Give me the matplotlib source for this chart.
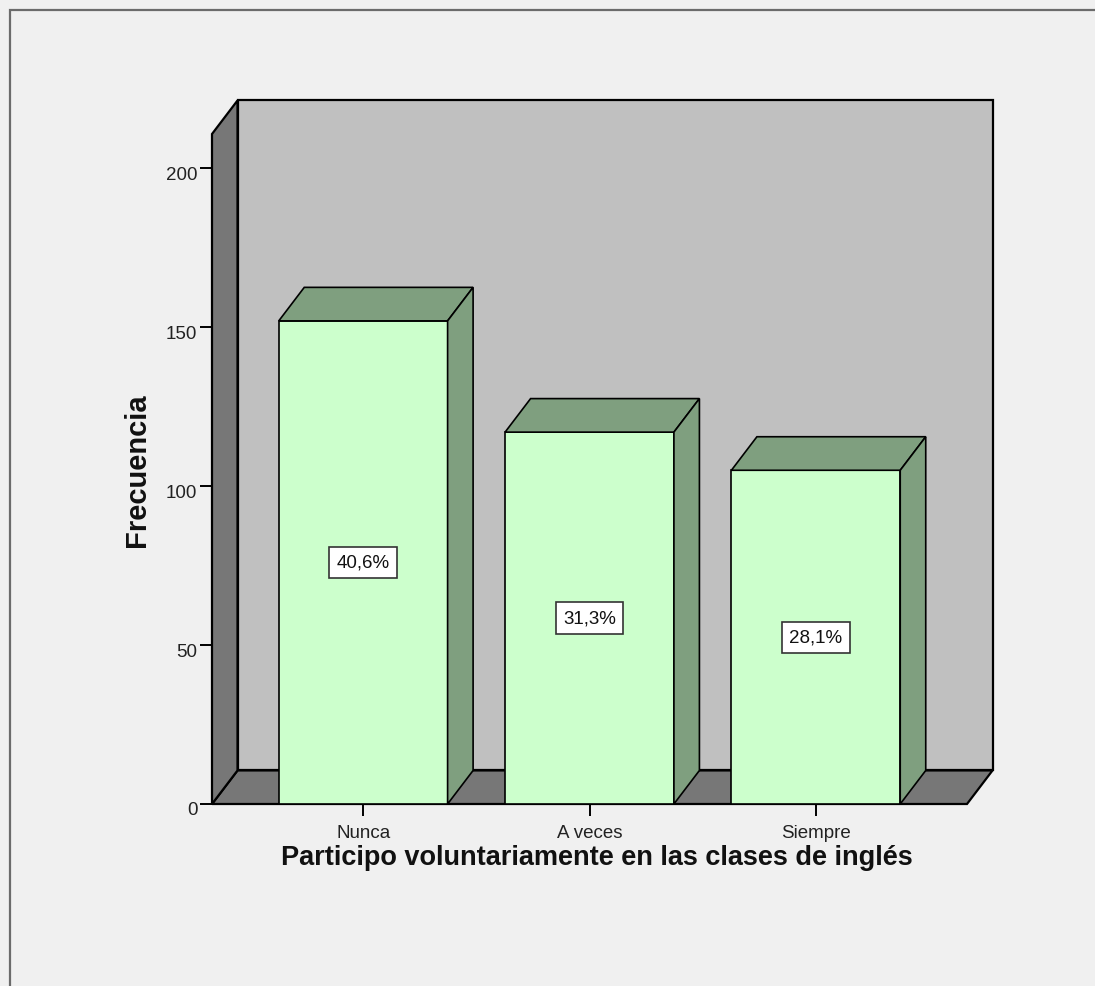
import matplotlib
matplotlib.use("Agg")
import matplotlib.pyplot as plt
from matplotlib.patches import Polygon, Rectangle
from matplotlib.transforms import ScaledTranslation

categories = ["Nunca", "A veces", "Siempre"]
frequencies = [152, 117, 105]
y_ticks = [0, 50, 100, 150, 200]
x_label = "Participo voluntariamente en las clases de inglés"
y_label = "Frecuencia"

total = sum(frequencies)
pct_labels = [f"{v / total * 100:.1f}%".replace(".", ",") for v in frequencies]

plt.rcParams['font.family'] = ['Liberation Sans', 'DejaVu Sans']

W, H = 1095, 987
fig = plt.figure(figsize=(W / 100, H / 100), dpi=100, facecolor="#f0f0f0")
ax = fig.add_axes([212 / W, 182 / H, 755 / W, 670 / H])
ax.set_xlim(0.332, 3.668)
ax.set_ylim(0, 210.8)
ax.set_facecolor("none")
for s in ax.spines.values():
    s.set_visible(False)

dx, dy = 0.1127, 10.55
x0, x1 = ax.get_xlim()
y0, y1 = ax.get_ylim()
wall_kw = dict(edgecolor="black", linewidth=1.6, joinstyle="miter", clip_on=False)
# back wall
ax.add_patch(Polygon([(x0 + dx, y0 + dy), (x1 + dx, y0 + dy), (x1 + dx, y1 + dy), (x0 + dx, y1 + dy)],
                     closed=True, facecolor="#c0c0c0", zorder=1, **wall_kw))
# floor
ax.add_patch(Polygon([(x0, y0), (x1, y0), (x1 + dx, y0 + dy), (x0 + dx, y0 + dy)],
                     closed=True, facecolor="#777777", zorder=1.2, **wall_kw))
# left wall
ax.add_patch(Polygon([(x0, y0), (x0 + dx, y0 + dy), (x0 + dx, y1 + dy), (x0, y1)],
                     closed=True, facecolor="#777777", zorder=1.2, **wall_kw))

bw = 0.746
xs = list(range(1, len(categories) + 1))
bar_kw = dict(edgecolor="black", linewidth=1.2, joinstyle="miter", clip_on=False)
ax.bar(xs, frequencies, width=bw, color="#ccffcc", zorder=3, **bar_kw)
for x, v, lab in zip(xs, frequencies, pct_labels):
    l, r = x - bw / 2, x + bw / 2
    ax.add_patch(Polygon([(l, v), (r, v), (r + dx, v + dy), (l + dx, v + dy)],
                         closed=True, facecolor="#7f9f7f", zorder=3, **bar_kw))
    ax.add_patch(Polygon([(r, 0), (r + dx, dy), (r + dx, v + dy), (r, v)],
                         closed=True, facecolor="#7f9f7f", zorder=3, **bar_kw))
    ax.text(x, v / 2, lab, ha="center", va="center", fontsize=13.5, zorder=5, color="#111111",
            bbox=dict(boxstyle="square,pad=0.38", fc="white", ec="#333333", lw=1.2))

ax.set_xticks(xs, categories)
ax.set_yticks(y_ticks)
ax.tick_params(axis="both", length=8.6, width=1.4, color="black", labelsize=13.5, labelcolor="#222222")
ax.tick_params(axis="x", pad=6)
ax.tick_params(axis="y", pad=2)
for lbl in ax.get_yticklabels():
    lbl.set_transform(lbl.get_transform() + ScaledTranslation(0, -4 / 100, fig.dpi_scale_trans))

fig.text(137 / W, 1 - 470 / H, y_label, rotation=90, ha="center", va="center",
         fontsize=21, fontweight="bold", color="#111111")
fig.text(597 / W, 1 - 858 / H, x_label, ha="center", va="center",
         fontsize=19.5, fontweight="bold", color="#111111")

fig.patches.append(Rectangle((9.5 / W, -0.5), 3, (1 - 11.3 / H) + 0.5, transform=fig.transFigure,
                             fill=False, edgecolor="#6b6b6b", linewidth=1.6))

fig.savefig("out.png", dpi=100, facecolor=fig.get_facecolor())
